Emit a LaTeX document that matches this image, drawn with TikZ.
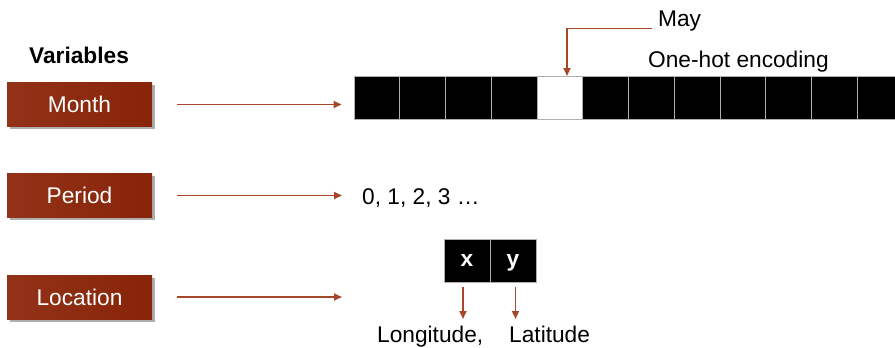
\documentclass[tikz,border=0pt]{standalone}
\usepackage{fontspec}
\setmainfont{Liberation Sans}
\usetikzlibrary{arrows.meta,shadows}

\definecolor{boxdark}{RGB}{136,36,8}
\definecolor{boxmid}{RGB}{160,56,20}
\definecolor{boxleft}{RGB}{146,50,24}
\definecolor{arrowbrown}{RGB}{165,72,42}
\definecolor{cellline}{RGB}{175,175,175}

\begin{document}
\begin{tikzpicture}[x=1pt,y=-1pt,
  bigtext/.style={font=\fontsize{22.7}{27}\selectfont},
  varbox/.style={bigtext, text=white, minimum width=145pt, minimum height=44pt,
    inner sep=0pt, text height=16.3pt, text depth=0pt,
    left color=boxleft, middle color=boxmid, right color=boxdark,
    drop shadow={shadow xshift=2.5pt, shadow yshift=-2.5pt, opacity=0.45, fill=black!70}},
  cell/.style={minimum width=45.75pt, minimum height=43pt, inner sep=0pt,
    fill=black, draw=cellline, line width=1pt},
  xycell/.style={cell, minimum width=46pt, text=white,
    font=\fontsize{22.7}{27}\selectfont\bfseries, text height=12.3pt, text depth=0pt},
  lbl/.style={bigtext, anchor=base west, inner sep=0pt},
  arr/.style={draw=arrowbrown, line width=1.8pt,
    -{Triangle[length=8pt,width=7pt]}}
]
\useasboundingbox (0,0) rectangle (895,348);

% heading and variable boxes
\node[lbl, font=\fontsize{22.7}{27}\selectfont\bfseries] (vars) at (29,63) {Variables};
\node[varbox] (month)  at (79.5,104.5) {Month};
\node[varbox] (period) at (79.5,195.5) {Period};
\node[varbox] (loc)    at (79.5,297)   {Location};

% one-hot bar: twelve cells, the fifth one set
\foreach \i in {1,2,3,4,6,7,8,9,10,11,12}
  \node[cell] (c\i) at ({354+45.75*(\i-0.5)},98) {};
\node[cell, fill=white] (c5) at ({354+45.75*4.5},98) {};

\node[lbl] (may) at (658,27) {May};
\node[lbl] (onehot) at (648,67.5) {One-hot encoding};
\coordinate (mayin) at (567,76);
\draw[arr] ([xshift=-6pt,yshift=-7pt]may.west) -| (mayin);

% period values
\node[lbl] (seq) at (362,204) {0, 1, 2, 3 …};

% location pair
\node[xycell] (cx) at (467,260.5) {x};
\node[xycell] (cy) at (513,260.5) {y};
\node[lbl] (lon) at (377,342) {Longitude,};
\node[lbl] (lat) at (509,342) {Latitude};
\coordinate (xa) at (463,287);
\coordinate (xb) at (463,319);
\coordinate (ya) at (515.5,287);
\coordinate (yb) at (515.5,319);
\draw[arr] (xa) -- (xb);
\draw[arr] (ya) -- (yb);

% connectors from the variables
\coordinate (locend) at (342,297);
\draw[arr] ([xshift=25pt]month.east)  -- ([xshift=-12pt]c1.west |- month.east);
\draw[arr] ([xshift=25pt]period.east) -- ([xshift=-20pt]seq.west |- period.east);
\draw[arr] ([xshift=25pt]loc.east)    -- (locend);
\end{tikzpicture}
\end{document}
